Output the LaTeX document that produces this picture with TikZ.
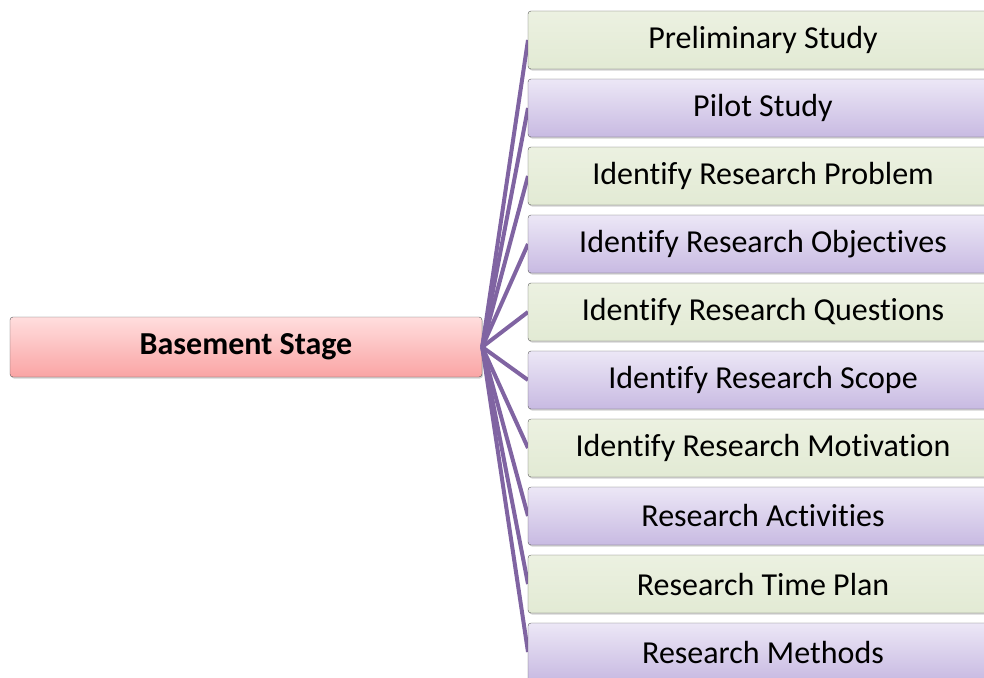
\documentclass[tikz,border=0pt]{standalone}
\usepackage{fontspec}
\setmainfont{Carlito}[Ligatures={NoCommon}]
\usepackage{tikz}
\usetikzlibrary{shadows}
\definecolor{linkpurple}{RGB}{128,100,162}
\definecolor{greentop}{RGB}{236,241,225}
\definecolor{greenbot}{RGB}{226,234,212}
\definecolor{purpletop}{RGB}{236,231,246}
\definecolor{purplebot}{RGB}{200,186,226}
\definecolor{redtop}{RGB}{255,222,222}
\definecolor{redbot}{RGB}{250,164,164}
\tikzset{
  stagebox/.style={draw=gray!70!black,rounded corners=3pt,minimum height=58pt,
    font=\fontsize{32}{36}\selectfont,drop shadow={shadow xshift=1pt,shadow yshift=-1.5pt,opacity=0.35}},
  greenbox/.style={stagebox,minimum width=470pt,top color=greentop,bottom color=greenbot},
  purplebox/.style={stagebox,minimum width=470pt,top color=purpletop,bottom color=purplebot},
  basebox/.style={stagebox,minimum width=472pt,minimum height=60pt,top color=redtop,bottom color=redbot},
  link/.style={draw=linkpurple,line width=4pt}
}

\begin{document}
\begin{tikzpicture}[x=1pt,y=-1pt]
\useasboundingbox (0,0) rectangle (984,677);
\clip (0,0) rectangle (984,677);
\node[basebox] (base) at (246,347) {\textbf{Basement Stage}};
\foreach \i/\txt/\sty in {1/Preliminary Study/greenbox,2/Pilot Study/purplebox,
  3/Identify Research Problem/greenbox,4/Identify Research Objectives/purplebox,
  5/Identify Research Questions/greenbox,6/Identify Research Scope/purplebox,
  7/Identify Research Motivation/greenbox,8/Research Activities/purplebox,
  9/Research Time Plan/greenbox,10/Research Methods/purplebox}
{ \pgfmathsetmacro{\yy}{40+68*(\i-1)}
  \draw[link] (base.east) -- (528,\yy);
  \node[\sty] (s\i) at (763,\yy) {\txt};
}
\end{tikzpicture}
\end{document}
